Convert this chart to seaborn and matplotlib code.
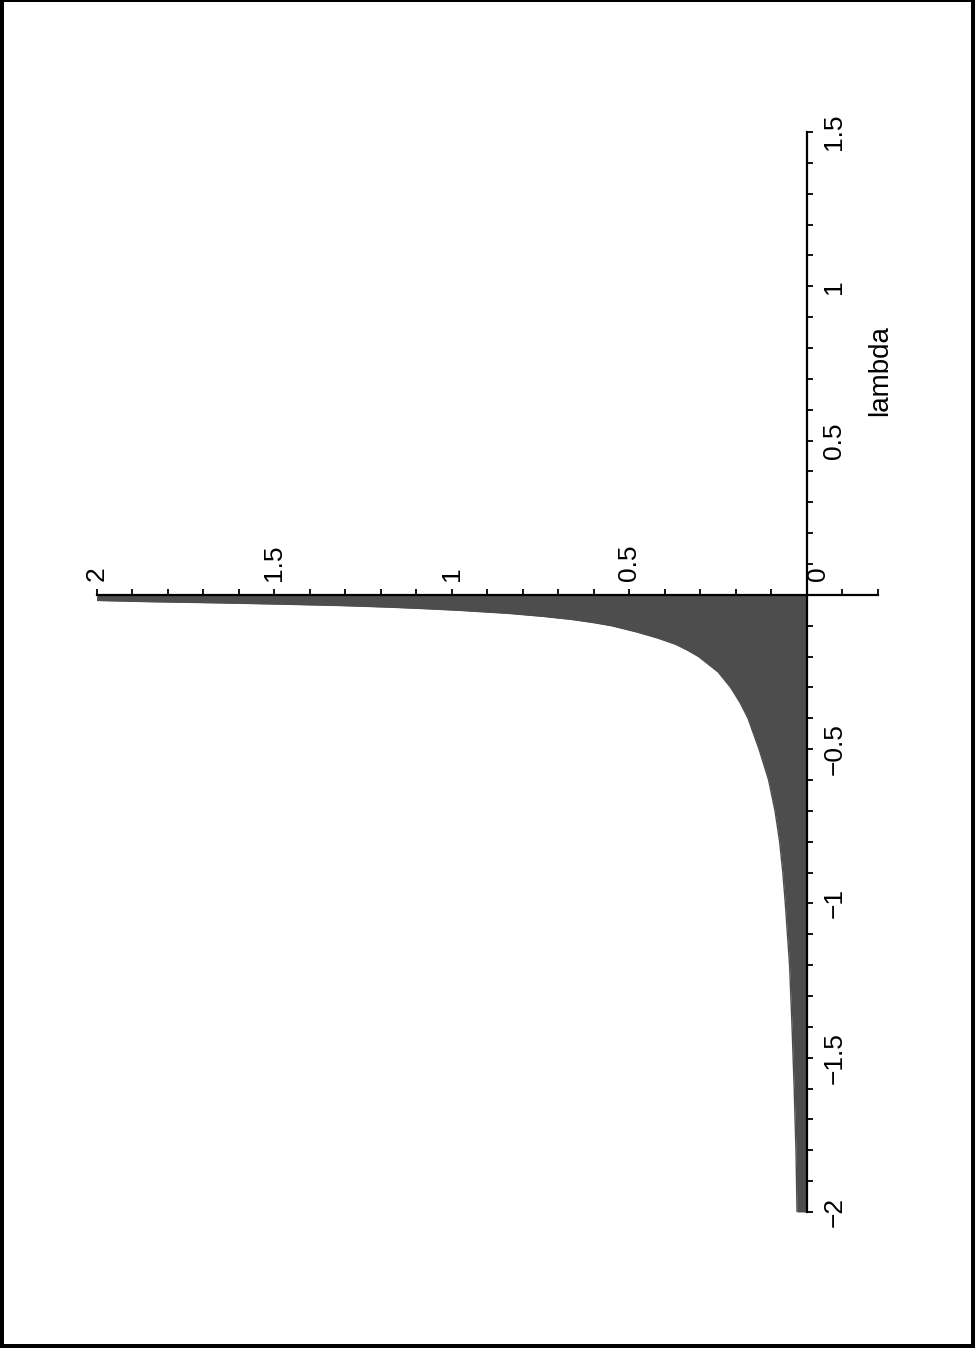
import numpy as np
import pandas as pd
import seaborn as sns
import matplotlib.pyplot as plt
from matplotlib.patches import Rectangle
from matplotlib.ticker import FixedLocator, NullFormatter
import matplotlib.transforms as mtransforms

# curve (value is clipped at 2 near lambda = 0)
lam = [0.0, -0.018, -0.022, -0.026, -0.03, -0.035, -0.04, -0.045, -0.05,
       -0.06, -0.07, -0.08, -0.09, -0.1, -0.12, -0.14, -0.16, -0.18, -0.2,
       -0.25, -0.3, -0.35, -0.4, -0.5, -0.6, -0.7, -0.8, -0.9, -1.0,
       -1.2, -1.4, -1.6, -1.8, -2.0]
val = [2.0, 2.0, 1.85, 1.65, 1.48, 1.3, 1.17, 1.07, 0.98,
       0.84, 0.74, 0.66, 0.60, 0.55, 0.48, 0.42, 0.37, 0.335, 0.305,
       0.25, 0.215, 0.188, 0.166, 0.135, 0.108, 0.090, 0.077, 0.068, 0.061,
       0.049, 0.042, 0.036, 0.031, 0.028]

lam_ticks = [-2, -1.5, -1, -0.5, 0.5, 1, 1.5]
lam_labels = ['\u22122', '\u22121.5', '\u22121', '\u22120.5', '0.5', '1', '1.5']
val_ticks = [0, 0.5, 1, 1.5, 2]
val_labels = ['0', '0.5', '1', '1.5', '2']

df = pd.DataFrame({'lambda': lam, 'value': val})

sns.set_theme(style='white')
plt.rcParams['font.family'] = ['Liberation Sans', 'DejaVu Sans']

W, H = 975, 1348
fig = plt.figure(figsize=(W / 100, H / 100), dpi=100)
ax = fig.add_axes([96.7 / W, 136 / H, 781.3 / W, 1080 / H])
ax.set_facecolor('none')

fill_col = '#4d4d4d'
ax.fill_betweenx(df['lambda'], 0, df['value'], color=fill_col, lw=0)
sns.lineplot(data=df, x='value', y='lambda', sort=False, estimator=None,
             color=fill_col, lw=1, ax=ax)

ax.set_xlim(2, -0.2)
ax.set_ylim(-2, 1.5)

# axes crossing at the origin, maple style
for s in ['left', 'bottom']:
    ax.spines[s].set_visible(False)
ax.spines['top'].set_position(('data', 0))
ax.spines['right'].set_position(('data', 0))
for s in ['top', 'right']:
    ax.spines[s].set_color('black')
    ax.spines[s].set_linewidth(1.6)

ax.xaxis.set_ticks_position('top')
ax.yaxis.set_ticks_position('right')
ax.xaxis.set_major_locator(FixedLocator(val_ticks))
ax.xaxis.set_ticklabels(val_labels)
ax.xaxis.set_minor_locator(FixedLocator(np.arange(-2, 21) / 10))
ax.xaxis.set_minor_formatter(NullFormatter())
ax.yaxis.set_major_locator(FixedLocator(lam_ticks))
ax.yaxis.set_ticklabels(lam_labels)
ax.yaxis.set_minor_locator(FixedLocator(np.arange(-20, 16) / 10))
ax.yaxis.set_minor_formatter(NullFormatter())

ax.tick_params(axis='x', which='both', direction='out', length=4, width=1.3,
               color='black', labelcolor='black', pad=6, labelsize=19, labelrotation=90)
ax.tick_params(axis='y', which='both', direction='out', length=4, width=1.3,
               color='black', labelcolor='black', pad=7, labelsize=19, labelrotation=90)
for t in ax.get_yticklabels():
    t.set_verticalalignment('center')

# maple pushes the "0" label off the vertical axis
off = mtransforms.ScaledTranslation(11 / 100, 0, fig.dpi_scale_trans)
zero_lab = ax.get_xticklabels()[0]
zero_lab.set_transform(zero_lab.get_transform() + off)

ax.set_xlabel('')
ax.set_ylabel('')
ax.text((880 - 96.7) / 781.3, (1212 - 371) / 1080, 'lambda', transform=ax.transAxes,
        rotation=90, ha='center', va='center', fontsize=20, color='black')

# page frame
for x0, y0, w, h in [(0, 0, 3.5, H), (0, H - 2, W, 2), (W - 4.3, 0, 4.3, H), (0, 0, W, 4.3)]:
    fig.add_artist(Rectangle((x0 / W, y0 / H), w / W, h / H, transform=fig.transFigure,
                             color='black', lw=0))

fig.savefig('out.png', dpi=100, facecolor='white')
